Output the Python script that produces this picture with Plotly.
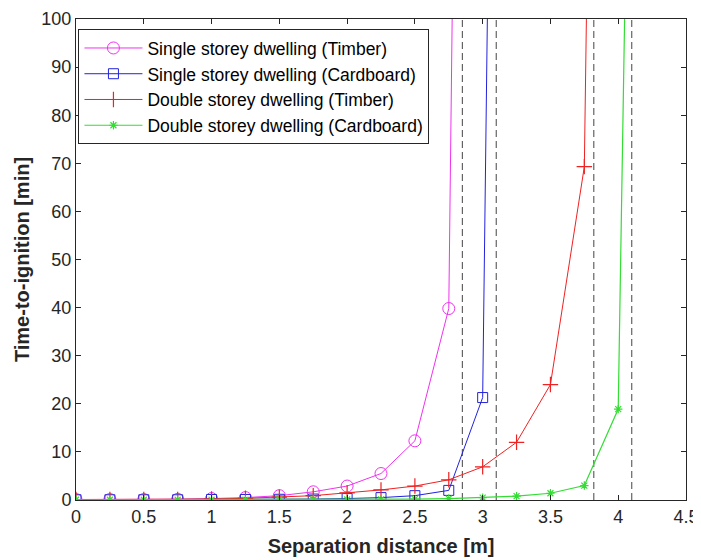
import plotly.graph_objects as go

# Data
ss_timber_x = [0, 0.25, 0.5, 0.75, 1.0, 1.25, 1.5, 1.75, 2.0, 2.25, 2.5, 2.75, 2.8]
ss_timber_y = [0.1, 0.1, 0.1, 0.15, 0.3, 0.5, 0.9, 1.7, 2.9, 5.5, 12.3, 39.8, 160]

ss_card_x = [0, 0.25, 0.5, 0.75, 1.0, 1.25, 1.5, 1.75, 2.0, 2.25, 2.5, 2.75, 3.0, 3.05]
ss_card_y = [0.05, 0.05, 0.05, 0.05, 0.1, 0.1, 0.15, 0.2, 0.3, 0.5, 0.9, 2.0, 21.3, 135]

ds_timber_x = [0, 0.25, 0.5, 0.75, 1.0, 1.25, 1.5, 1.75, 2.0, 2.25, 2.5, 2.75, 3.0, 3.25, 3.5, 3.75, 3.8]
ds_timber_y = [0.1, 0.1, 0.1, 0.1, 0.2, 0.35, 0.6, 0.9, 1.5, 2.1, 2.9, 4.2, 6.9, 12.0, 24.0, 69.3, 170]

ds_card_x = [0, 0.25, 0.5, 0.75, 1.0, 1.25, 1.5, 1.75, 2.0, 2.25, 2.5, 2.75, 3.0, 3.25, 3.5, 3.75, 4.0, 4.05]
ds_card_y = [0.05, 0.05, 0.05, 0.05, 0.05, 0.05, 0.1, 0.1, 0.1, 0.15, 0.2, 0.3, 0.5, 0.8, 1.4, 3.0, 18.9, 105]

limit_x = [2.85, 3.10, 3.82, 4.10]

series_names = [
    "Single storey dwelling (Timber)",
    "Single storey dwelling (Cardboard)",
    "Double storey dwelling (Timber)",
    "Double storey dwelling (Cardboard)",
]

x_ticks = [0, 0.5, 1, 1.5, 2, 2.5, 3, 3.5, 4, 4.5]
x_tick_labels = ["0", "0.5", "1", "1.5", "2", "2.5", "3", "3.5", "4", "4.5"]
y_ticks = [0, 10, 20, 30, 40, 50, 60, 70, 80, 90, 100]

FONT = "Liberation Sans, Arial, sans-serif"
AX = "#262626"

fig = go.Figure()

for lx in limit_x:
    fig.add_trace(go.Scatter(
        x=[lx, lx], y=[0, 100], mode="lines", showlegend=False, hoverinfo="skip",
        line=dict(color="#444444", width=1, dash="7px,4px"),
    ))

fig.add_trace(go.Scatter(
    x=ss_timber_x, y=ss_timber_y, name=series_names[0], mode="lines+markers",
    line=dict(color="#ee33ee", width=1),
    marker=dict(symbol="circle-open", size=12, color="#ee33ee", line=dict(width=1)),
))
fig.add_trace(go.Scatter(
    x=ss_card_x, y=ss_card_y, name=series_names[1], mode="lines+markers",
    line=dict(color="#2222dd", width=1),
    marker=dict(symbol="square-open", size=10, color="#2222dd", line=dict(width=1)),
))
fig.add_trace(go.Scatter(
    x=ds_timber_x, y=ds_timber_y, name=series_names[2], mode="lines+markers",
    line=dict(color="#ee2222", width=1),
    marker=dict(symbol="cross-thin-open", size=11, color="#ee2222", line=dict(width=1.2, color="#ee2222")),
))
fig.add_trace(go.Scatter(
    x=ds_card_x, y=ds_card_y, name=series_names[3], mode="lines+markers",
    line=dict(color="#33dd33", width=1.2),
    marker=dict(symbol="asterisk-open", size=7, color="#33dd33", line=dict(width=1.2, color="#33dd33")),
))

fig.update_layout(
    width=693, height=552,
    margin=dict(l=68, r=15, t=11, b=60, autoexpand=False),
    paper_bgcolor="white", plot_bgcolor="white",
    font=dict(family=FONT, size=18, color=AX),
    legend=dict(
        x=0.004, y=0.979, xanchor="left", yanchor="top",
        bgcolor="white", bordercolor="#262626", borderwidth=1,
        font=dict(family=FONT, size=17.5, color="black"),
        itemwidth=58, tracegroupgap=0,
    ),
    xaxis=dict(
        range=[0, 4.5], tickvals=x_ticks, ticktext=x_tick_labels, automargin=False,
        showgrid=False, zeroline=False, showline=True, linecolor=AX, linewidth=1,
        mirror="ticks", ticks="inside", ticklen=5, tickcolor=AX,
        tickfont=dict(size=18, color=AX),
        title=dict(text="<b>Separation distance [m]</b>", font=dict(size=20, color=AX), standoff=13),
    ),
    yaxis=dict(
        range=[0, 100], tickvals=y_ticks, automargin=False,
        showgrid=False, zeroline=False, showline=True, linecolor=AX, linewidth=1,
        mirror="ticks", ticks="inside", ticklen=5, tickcolor=AX,
        tickfont=dict(size=18, color=AX),
        title=dict(text="<b>Time-to-ignition [min]</b>", font=dict(size=20, color=AX), standoff=6),
    ),
)

fig.write_html("out.html")
